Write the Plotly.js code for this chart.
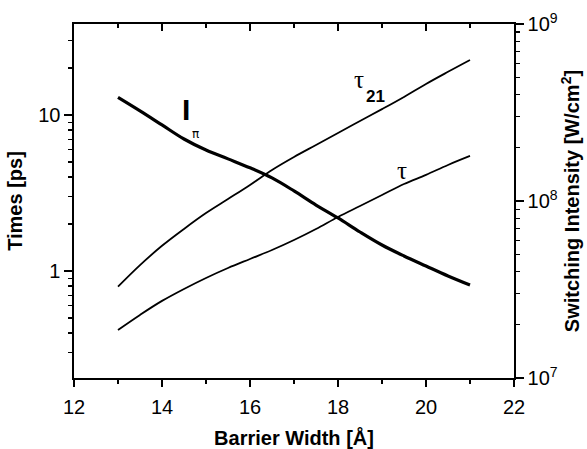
<!DOCTYPE html>
<html>
<head>
<meta charset="utf-8">
<script src="https://cdn.plot.ly/plotly-3.0.1.min.js"></script>
<style>html,body{margin:0;padding:0;background:#fff;}#chart{width:587px;height:449px;}</style>
</head>
<body>
<div id="chart"></div>
<script>
// Barrier width [Å]
const barrierWidth = [13, 13.5, 14, 14.5, 15, 15.5, 16, 16.5, 17, 17.5, 18, 18.5, 19, 19.5, 20, 20.5, 21];
// tau_21 [ps] (left axis)
const tau21 = [0.793, 1.09, 1.45, 1.86, 2.35, 2.89, 3.56, 4.44, 5.38, 6.42, 7.67, 9.15, 10.9, 13.05, 15.8, 18.9, 22.5];
// tau [ps] (left axis)
const tau = [0.419, 0.523, 0.643, 0.767, 0.902, 1.045, 1.194, 1.363, 1.58, 1.858, 2.22, 2.61, 3.07, 3.61, 4.13, 4.78, 5.46];
// I_pi switching intensity [W/cm^2] (right axis)
const iPi = [3.85e8, 3.23e8, 2.69e8, 2.24e8, 1.94e8, 1.73e8, 1.54e8, 1.35e8, 1.14e8, 9.49e7, 8.02e7, 6.68e7, 5.64e7, 4.89e7, 4.29e7, 3.77e7, 3.35e7];

// tick labels
const xTicks = [12, 14, 16, 18, 20, 22];
const xMinor = [13, 15, 17, 19, 21];
const leftTicks = [1, 10];
const leftTickText = ['1', '10'];
const leftMinor = [0.3, 0.4, 0.5, 0.6, 0.7, 0.8, 0.9, 2, 3, 4, 5, 6, 7, 8, 9, 20, 30];
const rightTicks = [1e7, 1e8, 1e9];
const rightTickText = ['10<sup>7</sup>', '10<sup>8</sup>', '10<sup>9</sup>'];
const rightMinor = [2e7, 3e7, 4e7, 5e7, 6e7, 7e7, 8e7, 9e7, 2e8, 3e8, 4e8, 5e8, 6e8, 7e8, 8e8, 9e8];

const FONT = 'Liberation Sans, Arial, sans-serif';

const traces = [
  {x: barrierWidth, y: tau21, type: 'scatter', mode: 'lines', line: {color: '#000', width: 1.8, shape: 'spline'}, xaxis: 'x', yaxis: 'y', hoverinfo: 'skip'},
  {x: barrierWidth, y: tau, type: 'scatter', mode: 'lines', line: {color: '#000', width: 1.8, shape: 'spline'}, xaxis: 'x2', yaxis: 'y', hoverinfo: 'skip'},
  {x: barrierWidth, y: iPi, type: 'scatter', mode: 'lines', line: {color: '#000', width: 3.2, shape: 'spline'}, xaxis: 'x', yaxis: 'y2', hoverinfo: 'skip'}
];

const layout = {
  width: 587, height: 449,
  margin: {l: 74, r: 73, t: 24, b: 71},
  paper_bgcolor: '#fff', plot_bgcolor: '#fff',
  showlegend: false,
  font: {family: FONT, color: '#000', size: 20},
  xaxis: {
    range: [12, 22], tickvals: xTicks, ticktext: xTicks.map(String),
    ticks: 'outside', ticklen: 7, tickwidth: 1.4, tickcolor: '#000',
    minor: {tickvals: xMinor, ticks: 'outside', ticklen: 4, tickwidth: 1.2, tickcolor: '#000'},
    showline: true, linewidth: 1.6, linecolor: '#000',
    showgrid: false, zeroline: false, ticklabelstandoff: 3,
    tickfont: {size: 20, family: FONT, color: '#000'},
    title: {text: '<b>Barrier Width [Å]</b>', font: {size: 20, family: FONT, color: '#000'}, standoff: 14}
  },
  xaxis2: {
    overlaying: 'x', side: 'top', anchor: 'y', range: [12, 22],
    tickvals: xTicks, ticktext: xTicks.map(() => ''),
    ticks: 'inside', ticklen: 7, tickwidth: 1.4, tickcolor: '#000',
    minor: {tickvals: xMinor, ticks: 'inside', ticklen: 4, tickwidth: 1.2, tickcolor: '#000'},
    showline: true, linewidth: 1.6, linecolor: '#000', showgrid: false, zeroline: false
  },
  yaxis: {
    type: 'log', range: [-0.686, 1.583],
    tickvals: leftTicks, ticktext: leftTickText,
    ticks: 'outside', ticklen: 8, tickwidth: 1.4, tickcolor: '#000',
    minor: {tickvals: leftMinor, ticks: 'outside', ticklen: 4, tickwidth: 1.2, tickcolor: '#000'},
    showline: true, linewidth: 1.6, linecolor: '#000',
    showgrid: false, zeroline: false,
    tickfont: {size: 20, family: FONT, color: '#000'},
    title: {text: '<b>Times [ps]</b>', font: {size: 20, family: FONT, color: '#000'}, standoff: 10}
  },
  yaxis2: {
    type: 'log', range: [7, 9], overlaying: 'y', side: 'right', anchor: 'x',
    tickvals: rightTicks, ticktext: rightTickText,
    ticks: 'outside', ticklen: 8, tickwidth: 1.4, tickcolor: '#000',
    minor: {tickvals: rightMinor, ticks: 'outside', ticklen: 4, tickwidth: 1.2, tickcolor: '#000'},
    showline: true, linewidth: 1.6, linecolor: '#000',
    showgrid: false, zeroline: false,
    tickfont: {size: 20, family: FONT, color: '#000'},
    title: {text: '<b>Switching Intensity [W/cm<sup>2</sup>]</b>', font: {size: 20, family: FONT, color: '#000'}, standoff: 6}
  },
  annotations: [
    {x: 14.55, y: Math.log10(10.8), xref: 'x', yref: 'y', text: '<b>I</b>', showarrow: false, font: {size: 30, family: FONT, color: '#000'}},
    {x: 14.76, y: Math.log10(7.6), xref: 'x', yref: 'y', text: 'π', showarrow: false, font: {size: 12, family: 'DejaVu Sans, sans-serif', color: '#000'}},
    {x: 18.47, y: Math.log10(16.8), xref: 'x', yref: 'y', text: 'τ', showarrow: false, font: {size: 25, family: 'Liberation Serif, serif', color: '#000'}},
    {x: 18.86, y: Math.log10(13.2), xref: 'x', yref: 'y', text: '<b>21</b>', showarrow: false, font: {size: 17, family: FONT, color: '#000'}},
    {x: 19.45, y: Math.log10(4.4), xref: 'x', yref: 'y', text: 'τ', showarrow: false, font: {size: 25, family: 'Liberation Serif, serif', color: '#000'}}
  ]
};

Plotly.newPlot('chart', traces, layout, {displayModeBar: false, staticPlot: true});
</script>
</body>
</html>
